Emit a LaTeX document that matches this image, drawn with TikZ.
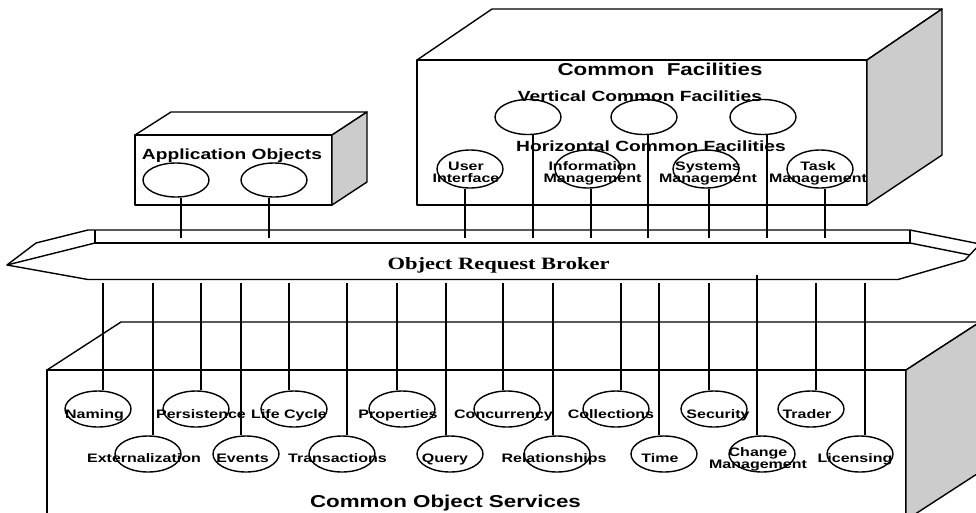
\documentclass[tikz,border=0pt]{standalone}
\usepackage{fontspec}
\setmainfont{Liberation Sans}[FakeStretch=1.3]
\newfontfamily\orbfont{Liberation Serif}[FakeStretch=1.3]
\usetikzlibrary{shapes.geometric}
\definecolor{sidegray}{RGB}{204,204,204}
\newcommand\smallfnt{\fontsize{12.3}{12}\selectfont\bfseries}
\newcommand\midfnt{\fontsize{14.75}{16}\selectfont\bfseries}
\newcommand\bigfnt{\fontsize{17.2}{19}\selectfont\bfseries}
\newcommand\orbfnt{\fontsize{17.3}{19}\selectfont\orbfont\bfseries}
\begin{document}
\begin{tikzpicture}[x=1pt,y=-1pt,line width=1.4pt,line join=round,
  obj/.style={ellipse,draw,minimum width=66pt,minimum height=36pt,inner sep=0pt},
  lbl/.style={anchor=base,inner sep=0pt,align=center,font=\smallfnt},
  title/.style={anchor=base,inner sep=0pt,font=\midfnt},
  bigtitle/.style={anchor=base,inner sep=0pt,font=\bigfnt},
  side/.style={draw,fill=sidegray}]
\useasboundingbox (0,0) rectangle (976,512);
\clip (0,0) rectangle (976,512);

% ---------- Application Objects block ----------
\draw (135,135) rectangle (332,205);
\draw (135,135) -- (171,112) -- (367,112) -- (332,135);
\path[side] (332,135) -- (367,112) -- (367,182) -- (332,205) -- cycle;
\node[title] (apptitle) at (232,159.3) {Application Objects};
\node[obj,minimum height=34pt] (app1) at (176,180) {};
\node[obj,minimum height=34pt] (app2) at (274,180) {};

% ---------- Common Facilities block ----------
\draw (417,60) rectangle (867,205);
\draw (417,60) -- (492,9) -- (942,9) -- (867,60);
\path[side] (867,60) -- (942,9) -- (942,155) -- (867,205) -- cycle;
\node[bigtitle] (cftitle) at (660,75.2) {Common\ \ Facilities};
\node[title] (vtitle) at (640,101.3) {Vertical Common Facilities};
\node[title] (htitle) at (651,151.3) {Horizontal Common Facilities};
\foreach \n/\ex in {v1/528,v2/644,v3/763}
  \node[obj,minimum height=35pt] (\n) at (\ex,117) {};
% two-line labels: the base anchor sits on the second line
\foreach \n/\ex/\tx/\t in {ui/470/466/{User\\Interface},
    info/588/592.5/{Information\\Management},
    sys/706/708/{Systems\\Management},
    task/820/818/{Task\\Management}}{
  \node[obj,minimum height=38pt] (\n) at (\ex,169) {};
  \node[lbl] (\n-txt) at (\tx,182.4) {\t};
}

% ---------- Common Object Services block ----------
\draw (47,530) -- (47,370) -- (906,370) -- (906,530);
\draw (47,370) -- (121,322) -- (980,322) -- (906,370);
\path[side] (906,370) -- (980,322) -- (980,472) -- (906,520) -- cycle;
\node[bigtitle] (costitle) at (445.5,507.2) {Common Object Services};

% services, upper row
\foreach \n/\ex/\cx/\tx/\t in {naming/98/103/94.5/Naming,
    persist/196/201/201/Persistence,
    life/294/289/289/Life Cycle,
    props/402/397/398/Properties,
    conc/507/503/503.5/Concurrency,
    coll/616/621/611/Collections,
    sec/714/709/718/Security,
    trader/811/816/807/Trader}{
  \node[obj] (\n) at (\ex,409) {};
  \node[lbl] (\n-txt) at (\tx,418.4) {\t};
  \coordinate (c-\n) at (\cx,283);
  \draw (c-\n) -- (c-\n |- \n.north);
}
% services, lower row
\foreach \n/\ex/\cx/\tx/\t in {ext/148/153/144/Externalization,
    events/246/241/242.5/Events,
    trans/342/347/337.5/Transactions,
    query/450/446/445/Query,
    rel/557/553/554/Relationships,
    time/664/659/660/Time,
    lic/860/865/855/Licensing}{
  \node[obj] (\n) at (\ex,454) {};
  \node[lbl] (\n-txt) at (\tx,462.4) {\t};
  \coordinate (c-\n) at (\cx,283);
  \draw (c-\n) -- (c-\n |- \n.north);
}
\node[obj] (change) at (762,454) {};
\node[lbl,font=\fontsize{12.3}{11}\selectfont\bfseries] (change-txt) at (758,468.4) {Change\\Management};
\coordinate (c-change) at (757,275);
\draw (c-change) -- (c-change |- change.north);

% ---------- connectors up to the broker ----------
\foreach \n/\cx in {app1/181,app2/269,ui/465,v1/533,info/591,v2/648,sys/709,v3/767,task/825}{
  \coordinate (t-\n) at (\cx,238);
  \draw (t-\n |- \n.south) -- (t-\n);
}

% ---------- Object Request Broker bar ----------
\coordinate (tipL) at (7,265);
\coordinate (tipR) at (980,244);
\draw (tipL) -- (36,243) -- (88,230) -- (910,230) -- (tipR) -- (965,260)
      -- (898,279.5) -- (88,279.5) -- cycle;
\draw (95,230) -- (95,243) -- (910,243) -- (910,230);
\draw (95,243) -- (tipL);
\draw (910,243) -- (970,255);
\node[anchor=base,inner sep=0pt,font=\orbfnt] (orb) at (498.5,269.7) {Object Request Broker};
\end{tikzpicture}
\end{document}
